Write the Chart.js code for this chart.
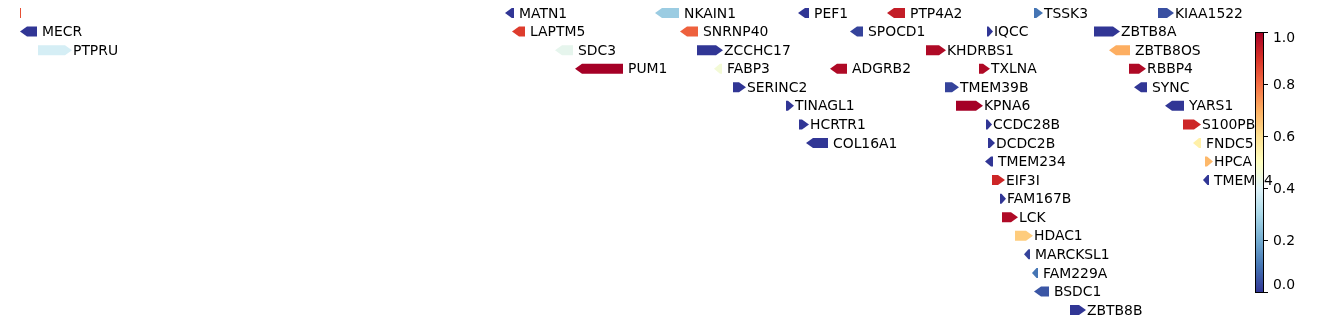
<!DOCTYPE html>
<html>
<head>
<meta charset="utf-8">
<script src="https://cdn.jsdelivr.net/npm/chart.js@4"></script>
<style>
  html, body { margin: 0; padding: 0; background: #fff; }
  #wrap { width: 1338px; height: 324px; }
</style>
</head>
<body>
<div id="wrap"><canvas id="chartGenes" width="1338" height="324"></canvas></div>
<script>
// ── data ─────────────────────────────────────────
const geneNames = ['', 'MATN1', 'NKAIN1', 'PEF1', 'PTP4A2', 'TSSK3', 'KIAA1522',
  'MECR', 'LAPTM5', 'SNRNP40', 'SPOCD1', 'IQCC', 'ZBTB8A',
  'PTPRU', 'SDC3', 'ZCCHC17', 'KHDRBS1', 'ZBTB8OS',
  'PUM1', 'FABP3', 'ADGRB2', 'TXLNA', 'RBBP4',
  'SERINC2', 'TMEM39B', 'SYNC',
  'TINAGL1', 'KPNA6', 'YARS1',
  'HCRTR1', 'CCDC28B', 'S100PB',
  'COL16A1', 'DCDC2B', 'FNDC5',
  'TMEM234', 'HPCA',
  'EIF3I', 'TMEM54',
  'FAM167B', 'LCK', 'HDAC1', 'MARCKSL1', 'FAM229A', 'BSDC1', 'ZBTB8B'];
const geneRows = [0, 0, 0, 0, 0, 0, 0,
  1, 1, 1, 1, 1, 1,
  2, 2, 2, 2, 2,
  3, 3, 3, 3, 3,
  4, 4, 4,
  5, 5, 5,
  6, 6, 6,
  7, 7, 7,
  8, 8,
  9, 9,
  10, 11, 12, 13, 14, 15, 16];
const geneStart = [20, 505, 655, 798, 887, 1034, 1158,
  20, 512, 680, 850, 987, 1094,
  38, 555, 697, 926, 1109,
  575, 714, 830, 979, 1129,
  733, 945, 1134,
  786, 956, 1165,
  799, 986, 1183,
  806, 988, 1193,
  985, 1205,
  992, 1203,
  1000, 1002, 1015, 1024, 1032, 1034, 1070];
const geneEnd = [21, 514, 679, 809, 905, 1043, 1174,
  37, 525, 698, 863, 993, 1120,
  72, 573, 723, 946, 1130,
  623, 722, 847, 990, 1146,
  746, 959, 1147,
  794, 983, 1184,
  809, 992, 1201,
  828, 995, 1201,
  993, 1213,
  1005, 1209,
  1006, 1018, 1033, 1030, 1038, 1049, 1086];
const geneStrand = [1, -1, -1, -1, -1, 1, 1,
  -1, -1, -1, -1, 1, 1,
  1, -1, 1, 1, -1,
  -1, -1, -1, 1, 1,
  1, 1, -1,
  1, 1, -1,
  1, 1, 1,
  -1, 1, -1,
  -1, 1,
  1, -1,
  1, 1, 1, -1, -1, -1, 1];
const geneValue = [0.85, 0.0, 0.27, 0.0, 0.94, 0.1, 0.04,
  0.0, 0.88, 0.82, 0.02, 0.0, 0.0,
  0.38, 0.42, 0.0, 0.98, 0.7,
  1.0, 0.46, 0.98, 0.98, 0.98,
  0.0, 0.02, 0.0,
  0.0, 1.0, 0.0,
  0.0, 0.0, 0.92,
  0.0, 0.0, 0.55,
  0.0, 0.68,
  0.92, 0.0,
  0.0, 0.98, 0.64, 0.02, 0.1, 0.05, 0.0];
const cbarTicks = [0.0, 0.2, 0.4, 0.6, 0.8, 1.0];

// RdYlBu_r
const cmapStops = ['#313695', '#4575b4', '#74add1', '#abd9e9', '#e0f3f8', '#ffffbf',
  '#fee090', '#fdae61', '#f46d43', '#d73027', '#a50026'];

function hexRgb(h) {
  return [parseInt(h.slice(1, 3), 16), parseInt(h.slice(3, 5), 16), parseInt(h.slice(5, 7), 16)];
}
function cmap(v) {
  v = Math.max(0, Math.min(1, v));
  const p = v * (cmapStops.length - 1);
  const i = Math.min(Math.floor(p), cmapStops.length - 2);
  const t = p - i;
  const a = hexRgb(cmapStops[i]), b = hexRgb(cmapStops[i + 1]);
  const c = a.map((x, k) => Math.round(x + (b[k] - x) * t));
  return `rgb(${c[0]},${c[1]},${c[2]})`;
}

const FONT = '13.9px "DejaVu Sans", sans-serif';

// ── gene arrows + labels ─────────────────────────
const genePlugin = {
  id: 'gene-arrows',
  afterDatasetsDraw(chart) {
    const { ctx: c, scales: { x, y } } = chart;
    c.save();
    c.font = FONT;
    c.textBaseline = 'middle';
    c.textAlign = 'left';
    geneNames.forEach((name, i) => {
      const x0 = x.getPixelForValue(geneStart[i]);
      const x1 = x.getPixelForValue(geneEnd[i]);
      const yc = y.getPixelForValue(geneRows[i]);
      const half = 5;
      const len = x1 - x0;
      // very short features are drawn as a plain tick
      const head = len < 2 ? 0 : Math.min(7, len * 0.75);
      c.beginPath();
      if (geneStrand[i] > 0) {
        c.moveTo(x0, yc - half);
        c.lineTo(x1 - head, yc - half);
        c.lineTo(x1, yc);
        c.lineTo(x1 - head, yc + half);
        c.lineTo(x0, yc + half);
      } else {
        c.moveTo(x1, yc - half);
        c.lineTo(x0 + head, yc - half);
        c.lineTo(x0, yc);
        c.lineTo(x0 + head, yc + half);
        c.lineTo(x1, yc + half);
      }
      c.closePath();
      c.fillStyle = cmap(geneValue[i]);
      c.fill();
      if (name) {
        c.fillStyle = '#000';
        c.fillText(name, x1 + (geneStrand[i] > 0 ? 1 : 5), yc + 1);
      }
    });
    c.restore();
  }
};

// ── colorbar ─────────────────────────────────────
const colorbarPlugin = {
  id: 'colorbar',
  afterDraw(chart) {
    const c = chart.ctx;
    const left = 1255, right = 1264, top = 32, bottom = 292;
    const vy = v => bottom - v * (bottom - top);
    c.save();
    const g = c.createLinearGradient(0, bottom, 0, top);
    cmapStops.forEach((col, k) => g.addColorStop(k / (cmapStops.length - 1), col));
    c.fillStyle = g;
    c.fillRect(left, top, right - left, bottom - top);
    c.strokeStyle = '#000';
    c.lineWidth = 1;
    c.strokeRect(left + 0.5, top + 0.5, right - left - 1, bottom - top);
    c.font = FONT;
    c.textBaseline = 'middle';
    c.textAlign = 'left';
    c.fillStyle = '#000';
    cbarTicks.forEach(t => {
      const py = Math.round(vy(t)) + 0.5;
      c.beginPath();
      c.moveTo(right, py);
      c.lineTo(right + 4, py);
      c.stroke();
      const ly = Math.max(38, Math.min(285, py + 1));
      c.fillText(t.toFixed(1), 1273, ly);
    });
    c.restore();
  }
};

new Chart(document.getElementById('chartGenes'), {
  type: 'scatter',
  data: {
    datasets: [{
      label: 'genes',
      data: geneStart.map((s, i) => ({ x: s, y: geneRows[i] })),
      pointRadius: 0,
      showLine: false
    }]
  },
  options: {
    responsive: false,
    animation: false,
    layout: { padding: 0 },
    plugins: { legend: { display: false }, tooltip: { enabled: false } },
    scales: {
      x: { type: 'linear', min: 0, max: 1338, display: false },
      y: { type: 'linear', min: -0.7, max: 16.75, reverse: true, display: false }
    }
  },
  plugins: [genePlugin, colorbarPlugin]
});
</script>
</body>
</html>
